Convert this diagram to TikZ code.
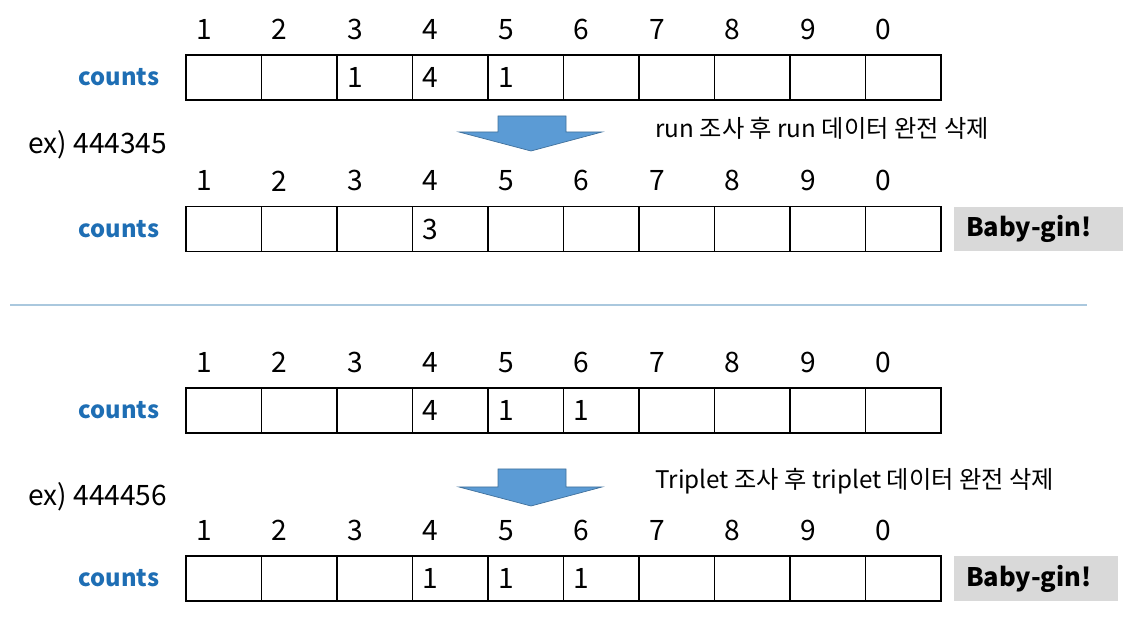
\documentclass[tikz,border=0pt]{standalone}
\usepackage{fontspec}
\setmainfont{Noto Sans CJK KR}
\usepackage{tikz}
\usetikzlibrary{positioning}

\definecolor{countblue}{RGB}{30,110,180}
\definecolor{arrowfill}{RGB}{91,155,213}
\definecolor{arrowline}{RGB}{65,113,156}
\definecolor{sepline}{RGB}{170,200,222}
\definecolor{gingray}{RGB}{217,217,217}

\begin{document}
\begin{tikzpicture}[
    x=0.02cm, y=-0.02cm,
    cell/.style={rectangle, draw, line width=0.8pt, minimum width=1.51cm,
      minimum height=0.9cm, inner sep=0pt},
    num/.style={font=\fontsize{16}{18}\selectfont, inner sep=0pt},
    lbl/.style={font=\fontsize{13.5}{16}\selectfont\bfseries, text=countblue},
    note/.style={font=\fontsize{13.8}{16}\selectfont, anchor=west, inner sep=0pt},
    gin/.style={rectangle, fill=gingray, minimum height=0.9cm,
      inner xsep=0.24cm, align=left, font=\fontsize{14.5}{17}\selectfont\bfseries},
    blockarrow/.style={fill=arrowfill, draw=arrowline, line width=0.4pt}]
  \useasboundingbox (0,0) rectangle (1134,628);

  % the four count arrays
  \foreach \r/\yy in {1/77.5, 2/229, 3/410.5, 4/578.5} {
    \foreach \c [count=\k] in {1,2,3,4,5,6,7,8,9,0} {
      \node[cell] (r\r-\k) at ({186+75.5*(\k-0.5)}, \yy) {};
      \node[num] at ([xshift=0.37cm, yshift=0.5cm] r\r-\k.north west) {\c};
    }
    \node[lbl, left=0.4cm of r\r-1] (cnt\r) {counts};
  }

  % values in the cells
  \foreach \r/\k/\v in {1/3/1, 1/4/4, 1/5/1, 2/4/3, 3/4/4, 3/5/1, 3/6/1,
                        4/4/1, 4/5/1, 4/6/1}
    \node[num] (v\r-\k) at ([xshift=0.37cm] r\r-\k.west) {\v};

  % examples
  \node[num, anchor=west] (ex1) at (28,145) {ex) 444345};
  \node[num, anchor=west] (ex2) at (28,497) {ex) 444456};

  % down arrows
  \draw[blockarrow] (498,116) -- (566,116) -- (566,132) -- (602,132)
    -- (531,151) -- (459,132) -- (498,132) -- cycle;
  \draw[blockarrow] (498,469) -- (566,469) -- (566,487) -- (602,487)
    -- (531,506) -- (459,487) -- (498,487) -- cycle;
  \node[note] (n1) at (655,128) {run 조사 후 run 데이터 완전 삭제};
  \node[note] (n2) at (655,481) {Triplet 조사 후 triplet 데이터 완전 삭제};

  % results
  \node[gin, text width=2.9cm, right=0.24cm of r2-10] (g1) {Baby-gin!};
  \node[gin, text width=2.8cm, right=0.24cm of r4-10] (g2) {Baby-gin!};

  % separator
  \draw[sepline, line width=1.1pt] (10,305) -- (1087,305);
\end{tikzpicture}
\end{document}
